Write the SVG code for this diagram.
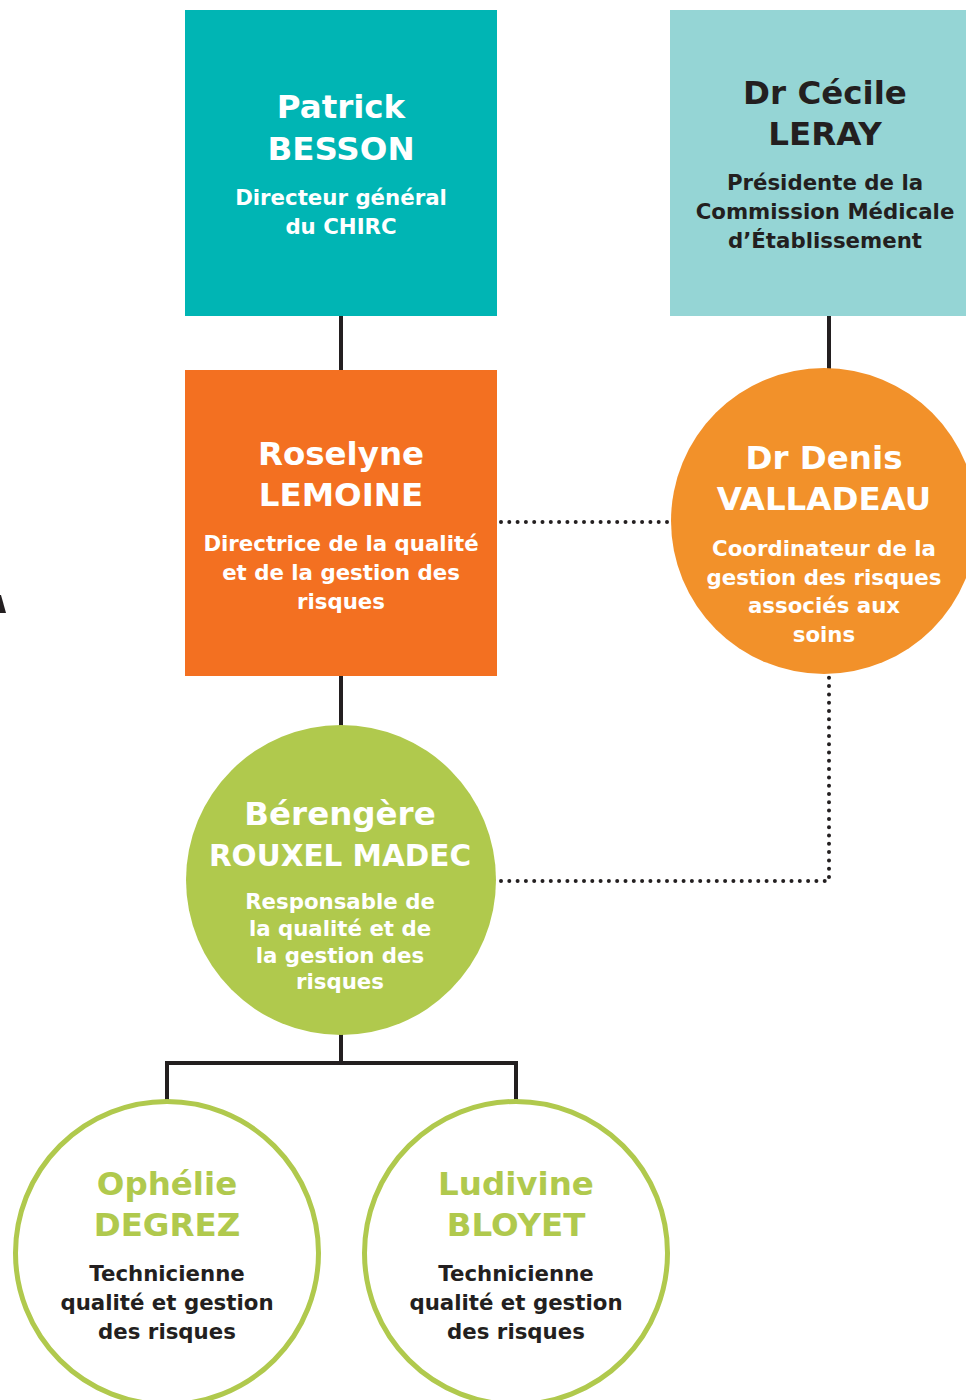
<svg xmlns="http://www.w3.org/2000/svg" width="966" height="1400" viewBox="0 0 966 1400">
<style>
.name{font-family:"DejaVu Sans","Liberation Sans",sans-serif;font-weight:700;font-size:32.5px;text-anchor:middle}
.sub{font-family:"DejaVu Sans","Liberation Sans",sans-serif;font-weight:700;font-size:21.3px;text-anchor:middle}
.w{fill:#ffffff}
.d{fill:#231f20}
.g{fill:#b0c94d}
.line{stroke:#231f20;stroke-width:4;fill:none}
.dot{stroke:#231f20;stroke-width:4;fill:none;stroke-linecap:round;stroke-dasharray:0 8.3}
</style>
<rect width="966" height="1400" fill="#ffffff"/>
<g id="connectors">
<path class="line" d="M341 316V370"/>
<path class="line" d="M829 316V369"/>
<path class="line" d="M341 676V728"/>
<path class="line" d="M341 1032V1063M167 1103V1063H516V1103"/>
<path class="dot" d="M501 522H668"/>
<path class="dot" d="M501 881H829V677"/>
</g>
<polygon points="0,595 1,595 6,613 0,613" fill="#231f20"/>
<g id="besson">
<rect x="185" y="10" width="312" height="306" fill="#00b5b4"/>
<text class="name w" x="341" y="118">Patrick</text>
<text class="name w" x="341" y="160">BESSON</text>
<text class="sub w" x="341" y="205">Directeur général</text>
<text class="sub w" x="341" y="234">du CHIRC</text>
</g>
<g id="leray">
<rect x="670" y="10" width="300" height="306" fill="#95d5d5"/>
<text class="name d" x="825" y="104">Dr Cécile</text>
<text class="name d" x="825" y="145">LERAY</text>
<text class="sub d" x="825" y="190">Présidente de la</text>
<text class="sub d" x="825" y="219">Commission Médicale</text>
<text class="sub d" x="825" y="248">d’Établissement</text>
</g>
<g id="lemoine">
<rect x="185" y="370" width="312" height="306" fill="#f37021"/>
<text class="name w" x="341" y="465">Roselyne</text>
<text class="name w" x="341" y="506">LEMOINE</text>
<text class="sub w" x="341" y="551">Directrice de la qualité</text>
<text class="sub w" x="341" y="580">et de la gestion des</text>
<text class="sub w" x="341" y="609">risques</text>
</g>
<g id="valladeau">
<circle cx="824" cy="521" r="153" fill="#f2912a"/>
<text class="name w" x="824" y="469">Dr Denis</text>
<text class="name w" x="824" y="510">VALLADEAU</text>
<text class="sub w" x="824" y="556">Coordinateur de la</text>
<text class="sub w" x="824" y="585">gestion des risques</text>
<text class="sub w" x="824" y="613">associés aux</text>
<text class="sub w" x="824" y="642">soins</text>
</g>
<g id="rouxel">
<circle cx="341" cy="880" r="155" fill="#b0c94d"/>
<text class="name w" x="340" y="825">Bérengère</text>
<text class="name w" x="340" y="866" style="font-size:29.5px">ROUXEL MADEC</text>
<text class="sub w" x="340" y="909">Responsable de</text>
<text class="sub w" x="340" y="936">la qualité et de</text>
<text class="sub w" x="340" y="963">la gestion des</text>
<text class="sub w" x="340" y="989">risques</text>
</g>
<g id="degrez">
<circle cx="167" cy="1253" r="151.5" fill="#ffffff" stroke="#b0c94d" stroke-width="5"/>
<text class="name g" x="167" y="1195">Ophélie</text>
<text class="name g" x="167" y="1236">DEGREZ</text>
<text class="sub d" x="167" y="1281">Technicienne</text>
<text class="sub d" x="167" y="1310">qualité et gestion</text>
<text class="sub d" x="167" y="1339">des risques</text>
</g>
<g id="bloyet">
<circle cx="516" cy="1253" r="151.5" fill="#ffffff" stroke="#b0c94d" stroke-width="5"/>
<text class="name g" x="516" y="1195">Ludivine</text>
<text class="name g" x="516" y="1236">BLOYET</text>
<text class="sub d" x="516" y="1281">Technicienne</text>
<text class="sub d" x="516" y="1310">qualité et gestion</text>
<text class="sub d" x="516" y="1339">des risques</text>
</g>
</svg>
